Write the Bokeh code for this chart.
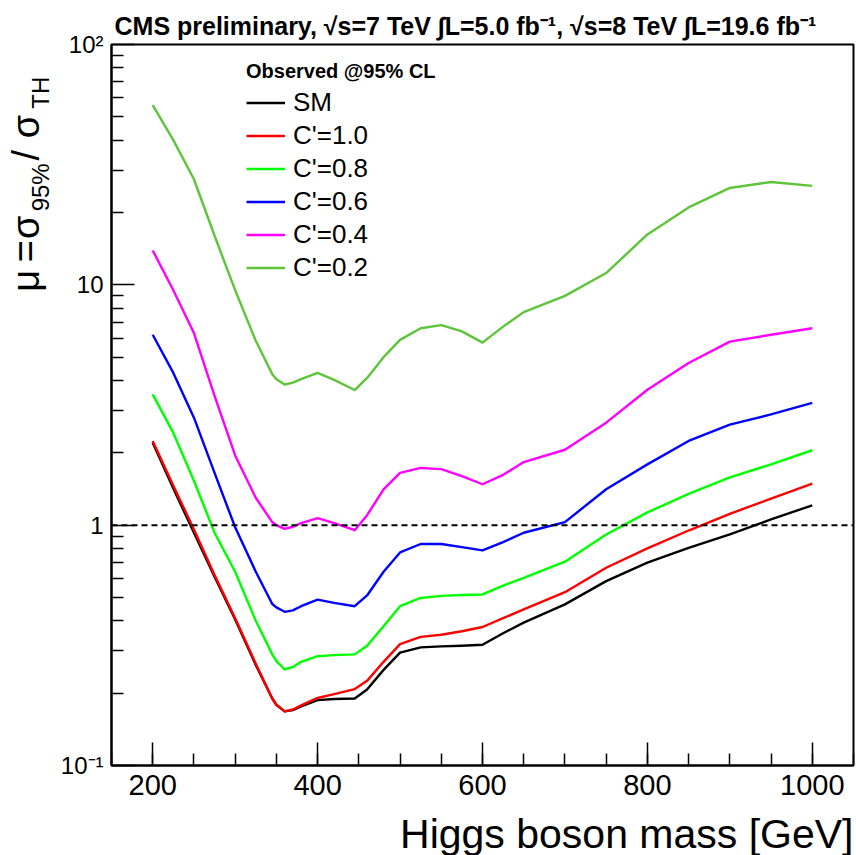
import math
from bokeh.plotting import figure
from bokeh.layouts import row, column
from bokeh.models import (Span, Legend, LegendItem, FixedTicker,
                          CustomJSTickFormatter, Range1d)
from bokeh.core.properties import value
from bokeh.embed import file_html
from bokeh.resources import INLINE

# ---------------- data ----------------
mass = [200, 225, 250, 275, 300, 325, 345, 350, 360, 370, 380, 400, 420, 445, 460, 480,
        500, 525, 550, 575, 600, 625, 650, 700, 750, 800, 850, 900, 950, 1000]

mu_sm = [2.20, 1.42, 0.93, 0.61, 0.405, 0.262, 0.190, 0.179, 0.168, 0.170, 0.176, 0.187, 0.189, 0.190,
         0.207, 0.250, 0.295, 0.310, 0.313, 0.315, 0.318, 0.355, 0.393, 0.468, 0.585, 0.698, 0.805,
         0.915, 1.056, 1.21]
mu_c10 = [2.24, 1.46, 0.96, 0.62, 0.41, 0.265, 0.190, 0.179, 0.168, 0.171, 0.178, 0.191, 0.198, 0.208,
          0.225, 0.270, 0.320, 0.343, 0.350, 0.362, 0.377, 0.410, 0.446, 0.526, 0.665, 0.800, 0.950,
          1.115, 1.29, 1.49]
mu_c08 = [3.50, 2.42, 1.53, 0.93, 0.64, 0.40, 0.290, 0.272, 0.251, 0.257, 0.270, 0.285, 0.288, 0.290,
          0.315, 0.380, 0.460, 0.498, 0.508, 0.512, 0.515, 0.560, 0.604, 0.705, 0.915, 1.13, 1.35,
          1.58, 1.79, 2.05]
mu_c06 = [6.2, 4.3, 2.8, 1.65, 0.98, 0.64, 0.47, 0.455, 0.436, 0.442, 0.46, 0.49, 0.475, 0.46,
          0.51, 0.64, 0.77, 0.835, 0.835, 0.81, 0.785, 0.85, 0.93, 1.03, 1.41, 1.79, 2.24,
          2.62, 2.89, 3.23]
mu_c04 = [13.9, 9.5, 6.3, 3.45, 1.95, 1.3, 1.03, 1.0, 0.965, 0.985, 1.02, 1.07, 1.02, 0.953,
          1.1, 1.41, 1.65, 1.73, 1.71, 1.6, 1.48, 1.62, 1.83, 2.06, 2.67, 3.66, 4.73,
          5.8, 6.2, 6.6]
mu_c02 = [56.0, 40.0, 27.5, 16.0, 9.5, 5.85, 4.25, 4.05, 3.85, 3.92, 4.05, 4.3, 4.02, 3.65,
          4.1, 5.0, 5.9, 6.6, 6.8, 6.4, 5.75, 6.7, 7.7, 9.0, 11.2, 16.2, 21.0,
          25.3, 26.8, 25.8]

series_values = [mu_sm, mu_c10, mu_c08, mu_c06, mu_c04, mu_c02]
series_labels = ["SM", "C'=1.0", "C'=0.8", "C'=0.6", "C'=0.4", "C'=0.2"]
series_colors = ["#000000", "#ff0000", "#00ff00", "#0000ff", "#ff00ff", "#5ec43a"]

ref_level = 1.0

x_major = [200, 400, 600, 800, 1000]
x_tick_labels = ["200", "400", "600", "800", "1000"]
y_major = [0.1, 1, 10, 100]
y_tick_labels = ["10\u207b\u00b9", "1", "10", "10\u00b2"]

title_text = ("CMS preliminary, \u221as=7 TeV \u222bL=5.0 fb\u207b\u00b9, "
              "\u221as=8 TeV \u222bL=19.6 fb\u207b\u00b9")
x_title = "Higgs boson mass [GeV]"
legend_title = "Observed @95% CL"
# y title  mu = sigma_{95%} / sigma_{TH}, split in main-size and subscript pieces
y_title_main = ["\u03bc", "=", "\u03c3", "/", "\u03c3"]
y_title_sub = ["95%", "TH"]

FONT = "Liberation Sans, Arial, Helvetica, sans-serif"

# ---------------- layout geometry (page pixels) ----------------
W, H = 856, 855
LW = 56                              # width of the strip holding the y title
BH = 47                              # height of the strip holding the x title
PH = H - BH                          # height of the plot row
FL, FR, FT, FB = 111, 853, 44, 765   # frame edges


def strip(width, height):
    f = figure(width=width, height=height, x_range=Range1d(0, width), y_range=Range1d(0, height),
               output_backend="svg", toolbar_location=None,
               x_axis_location=None, y_axis_location=None,
               min_border_left=0, min_border_right=0, min_border_top=0, min_border_bottom=0)
    f.grid.visible = False
    f.outline_line_color = None
    f.background_fill_color = "white"
    f.border_fill_color = "white"
    return f


# ---------------- strip with the y-axis title ----------------
yt = strip(LW, PH)
main_start = [277, 244, 218, 130, 105]   # lower end of each piece (page y)
sub_start = [187, 72]
yt.text(x=[25] * len(y_title_main), y=[PH - v for v in main_start], text=y_title_main,
        angle=math.pi / 2, text_font=value(FONT), text_font_size="38px",
        text_align="left", text_baseline="alphabetic", text_color="black")
yt.text(x=[40, 40], y=[PH - v for v in sub_start], text=y_title_sub,
        angle=math.pi / 2, text_font=value(FONT), text_font_size="24px",
        text_align="left", text_baseline="alphabetic", text_color="black")

# ---------------- strip with the x-axis title ----------------
xt = strip(W, BH)
xt.text(x=[853], y=[22], text=[x_title], text_font=value(FONT), text_font_size="41px",
        text_align="right", text_baseline="alphabetic", text_color="black")

# ---------------- main plot ----------------
p = figure(width=W - LW, height=PH, x_range=Range1d(150, 1050), y_range=Range1d(0.1, 100),
           y_axis_type="log", output_backend="svg", toolbar_location=None,
           min_border_left=FL - LW, min_border_right=W - FR, min_border_top=FT,
           min_border_bottom=PH - FB)
p.grid.visible = False
p.background_fill_color = "white"
p.border_fill_color = "white"
p.outline_line_color = "black"
p.outline_line_width = 2

p.title.text = title_text
p.title.align = "left"
p.title.offset = 3
p.title.standoff = 10
p.title.vertical_align = "bottom"
p.title.text_font = FONT
p.title.text_font_style = "bold"
p.title.text_font_size = "25px"
p.title.text_color = "black"

# axes
p.xaxis.ticker = FixedTicker(ticks=x_major, minor_ticks=list(range(150, 1051, 50)))
p.xaxis.major_label_overrides = {v: s for v, s in zip(x_major, x_tick_labels)}
p.yaxis.ticker = FixedTicker(ticks=y_major,
                             minor_ticks=[m * 10.0 ** e for e in (-1, 0, 1) for m in range(2, 10)])
p.yaxis.formatter = CustomJSTickFormatter(
    args=dict(vals=y_major, labs=y_tick_labels),
    code="""
    for (let i = 0; i < vals.length; i++) {
        if (Math.abs(Math.log10(vals[i]) - Math.log10(tick)) < 1e-6) return labs[i];
    }
    return "";
    """)
for ax in (p.xaxis[0], p.yaxis[0]):
    ax.axis_line_width = 2
    ax.major_tick_in = 23
    ax.major_tick_out = 0
    ax.minor_tick_in = 12
    ax.minor_tick_out = 0
    ax.major_tick_line_width = 1.5
    ax.minor_tick_line_width = 1.5
    ax.major_label_text_font = FONT
    ax.major_label_text_color = "black"
p.xaxis.major_label_text_font_size = "29px"
p.xaxis.major_label_standoff = 9
p.yaxis.major_label_text_font_size = "24px"
p.yaxis.major_label_standoff = 8

# reference line at mu = 1
p.add_layout(Span(location=ref_level, dimension="width", line_color="black",
                  line_width=2, line_dash="6 4"))

# curves
items = []
for vals, lab, col in zip(series_values, series_labels, series_colors):
    r = p.line(mass, vals, line_color=col, line_width=2.4, line_join="round")
    items.append(LegendItem(label=lab, renderers=[r]))

legend = Legend(items=items, location=(135, 482), title=legend_title,
                title_text_font=FONT, title_text_font_style="bold",
                title_text_font_size="20px", title_standoff=4, title_text_color="black",
                label_text_font=FONT, label_text_font_size="26px", label_text_color="black",
                glyph_width=39, glyph_height=31, label_height=31, label_standoff=8,
                spacing=2, padding=0, margin=0, border_line_alpha=0,
                background_fill_alpha=0)
p.add_layout(legend)

open("out.html", "w").write(file_html(column(row(yt, p), xt), INLINE))
